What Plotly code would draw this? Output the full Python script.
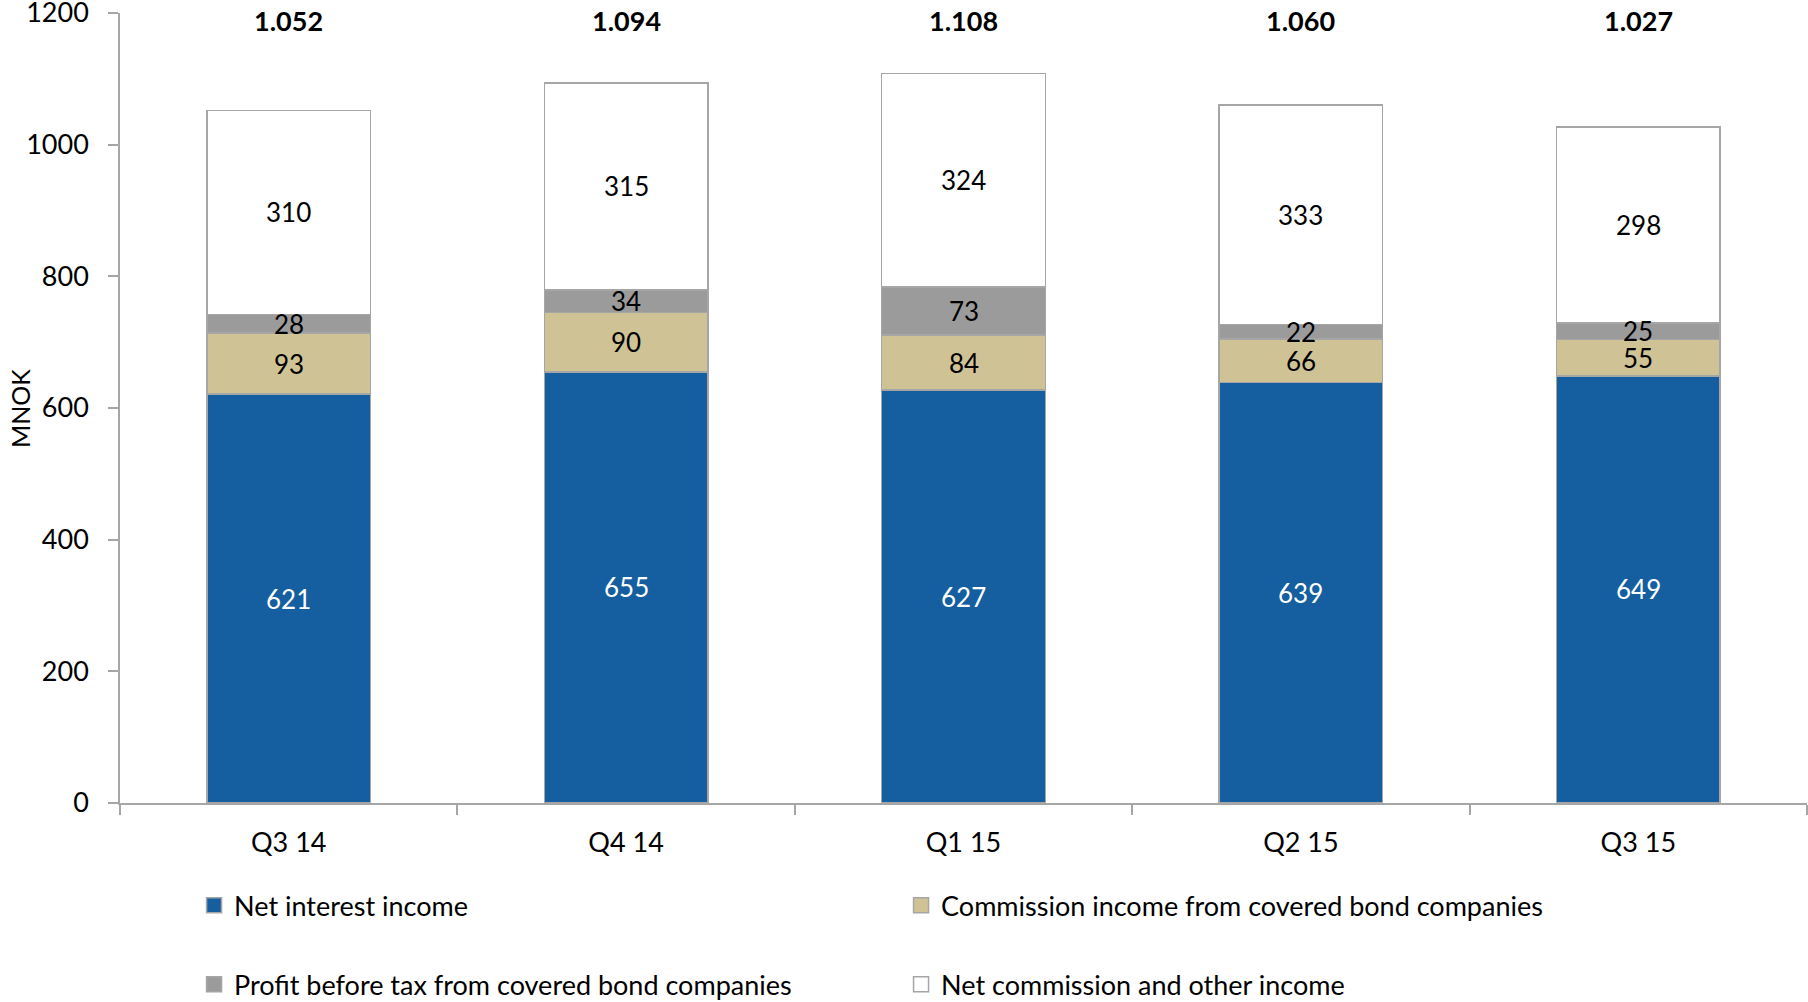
import plotly.graph_objects as go

quarters = ["Q3 14", "Q4 14", "Q1 15", "Q2 15", "Q3 15"]
net_interest = [621, 655, 627, 639, 649]
commission_cb = [93, 90, 84, 66, 55]
profit_cb = [28, 34, 73, 22, 25]
net_commission_other = [310, 315, 324, 333, 298]

series_names = [
    "Net interest income",
    "Commission income from covered bond companies",
    "Profit before tax from covered bond companies",
    "Net commission and other income",
]
y_ticks = [0, 200, 400, 600, 800, 1000, 1200]

FONT = "Lato"
FS = 27
LFS = 26
series = [net_interest, commission_cb, profit_cb, net_commission_other]
colors = ["#155EA0", "#CFC396", "#9B9B9B", "#FFFFFF"]
legends = ["legend", "legend", "legend2", "legend2"]
text_colors = ["white", "black", "black", "black"]
EDGE = "#A6A6A6"

fig = go.Figure()
for name, vals, col in zip(series_names, series, colors):
    fig.add_trace(go.Bar(
        x=quarters, y=vals, name=name, showlegend=False,
        marker=dict(color=col, line=dict(color=EDGE, width=1.5)),
    ))

# legend entries (square markers)
for name, col, lg in zip(series_names, colors, legends):
    fig.add_trace(go.Scatter(
        x=[None], y=[None], mode="markers", name=name, legend=lg,
        marker=dict(symbol="square", size=15, color=col, line=dict(color=EDGE, width=1.5)),
    ))

# segment labels
annotations = []
base = [0] * len(quarters)
for vals, tc in zip(series, text_colors):
    for i, q in enumerate(quarters):
        mid = base[i] + vals[i] / 2
        annotations.append(dict(x=q, y=mid, xref="x", yref="y", text=str(vals[i]),
                                showarrow=False, font=dict(family=FONT, size=LFS, color=tc)))
        base[i] += vals[i]

# totals
for i, q in enumerate(quarters):
    t = base[i]
    txt = f"{t // 1000}.{t % 1000:03d}"
    annotations.append(dict(x=q, y=1189, xref="x", yref="y", text=f"<b>{txt}</b>",
                            showarrow=False, font=dict(family=FONT, size=FS, color="black")))

# y axis title
annotations.append(dict(x=-0.0593, y=0.5, xref="paper", yref="paper", text="MNOK",
                        textangle=-90, showarrow=False, xanchor="center", yanchor="middle",
                        font=dict(family=FONT, size=FS - 2, color="black")))

leg_common = dict(orientation="h", x=0.0439, xanchor="left", yanchor="middle",
                  entrywidth=662, entrywidthmode="pixels", traceorder="normal",
                  font=dict(family=FONT, size=FS, color="black"), bgcolor="rgba(0,0,0,0)")

fig.update_layout(
    width=1808, height=1002,
    margin=dict(l=120, r=1, t=13, b=199, autoexpand=False),
    paper_bgcolor="white", plot_bgcolor="white",
    barmode="stack", bargap=0.515,
    font=dict(family=FONT, size=FS, color="black"),
    annotations=annotations,
    legend=dict(y=-0.13, **leg_common),
    legend2=dict(y=-0.23, **leg_common),
    xaxis=dict(type="category", showline=True, linecolor=EDGE, linewidth=1.5,
               ticks="outside", tickson="boundaries", ticklen=10, tickcolor=EDGE,
               tickwidth=1.5, ticklabelstandoff=15, showgrid=False, automargin=False,
               tickfont=dict(family=FONT, size=FS, color="black")),
    yaxis=dict(range=[0, 1200.01], tickvals=y_ticks, showline=True, linecolor=EDGE,
               linewidth=1.5, ticks="outside", ticklen=10, tickcolor=EDGE, tickwidth=1.5,
               showgrid=False, zeroline=False, ticklabelstandoff=14, automargin=False,
               ticklabeloverflow="allow",
               tickfont=dict(family=FONT, size=FS, color="black")),
)

fig.write_html("out.html")
